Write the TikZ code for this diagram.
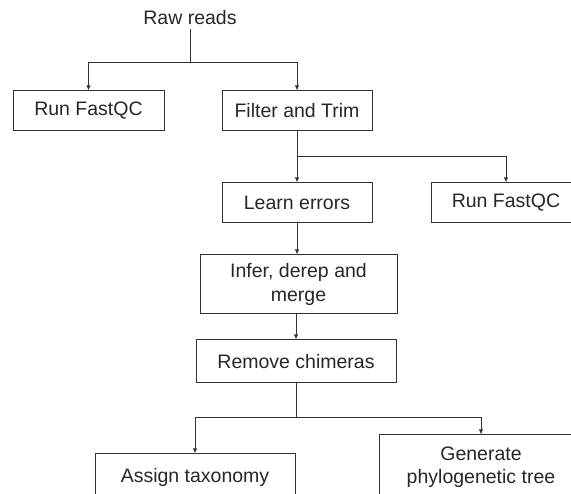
\documentclass[tikz,border=0pt]{standalone}
\usepackage{fontspec}
\setmainfont{Liberation Sans}
\usetikzlibrary{arrows.meta}

\begin{document}
\begin{tikzpicture}[x=1pt,y=-1pt,
  every node/.style={font=\fontsize{19.5}{23.5}\selectfont,text=black!85},
  stepbox/.style={draw=black!80,line width=1pt,minimum height=40pt,align=center,inner sep=2pt},
  link/.style={draw=black!80,line width=1pt},
  arr/.style={link,-{Latex[length=5pt,width=4.5pt]}}]
\useasboundingbox (0,0) rectangle (571,494);
\clip (0,0) rectangle (571,494);
\node (raw) at (190,18) {Raw reads};
\node[stepbox,minimum width=151pt] (qc1) at (88.5,111) {Run FastQC};
\node[stepbox,minimum width=150pt] (trim) at (297,111) {Filter and Trim};
\node[stepbox,minimum width=150pt] (learn) at (297,203) {Learn errors};
\node[stepbox,minimum width=150pt] (qc2) at (506,203) {Run FastQC};
\node[stepbox,minimum width=197pt,minimum height=59pt] (infer) at (298.5,284.5) {Infer, derep and\\merge};
\node[stepbox,minimum width=200pt,minimum height=43pt] (chim) at (296,361.5) {Remove chimeras};
\node[stepbox,minimum width=200pt,minimum height=46pt] (tax) at (195,477) {Assign taxonomy};
\node[stepbox,minimum width=204pt,minimum height=64pt] (tree) at (481,467) {Generate\\phylogenetic tree};
\coordinate (b1) at (190,63);
\coordinate (b2) at (297,157);
\coordinate (b3) at (296,418);
\path[link] (raw) -- (b1);
\path[arr] (b1) -| (qc1);
\path[arr] (b1) -| (trim);
\path[link] (trim) -- (b2);
\path[arr] (b2) -- (learn);
\path[arr] (b2) -| (qc2);
\path[arr] (learn.south) -- (learn.south |- infer.north);
\path[arr] (infer.south -| chim.north) -- (chim.north);
\path[link] (chim) -- (b3);
\path[arr] (b3) -| (tax);
\path[arr] (b3) -| (tree);
\end{tikzpicture}
\end{document}
